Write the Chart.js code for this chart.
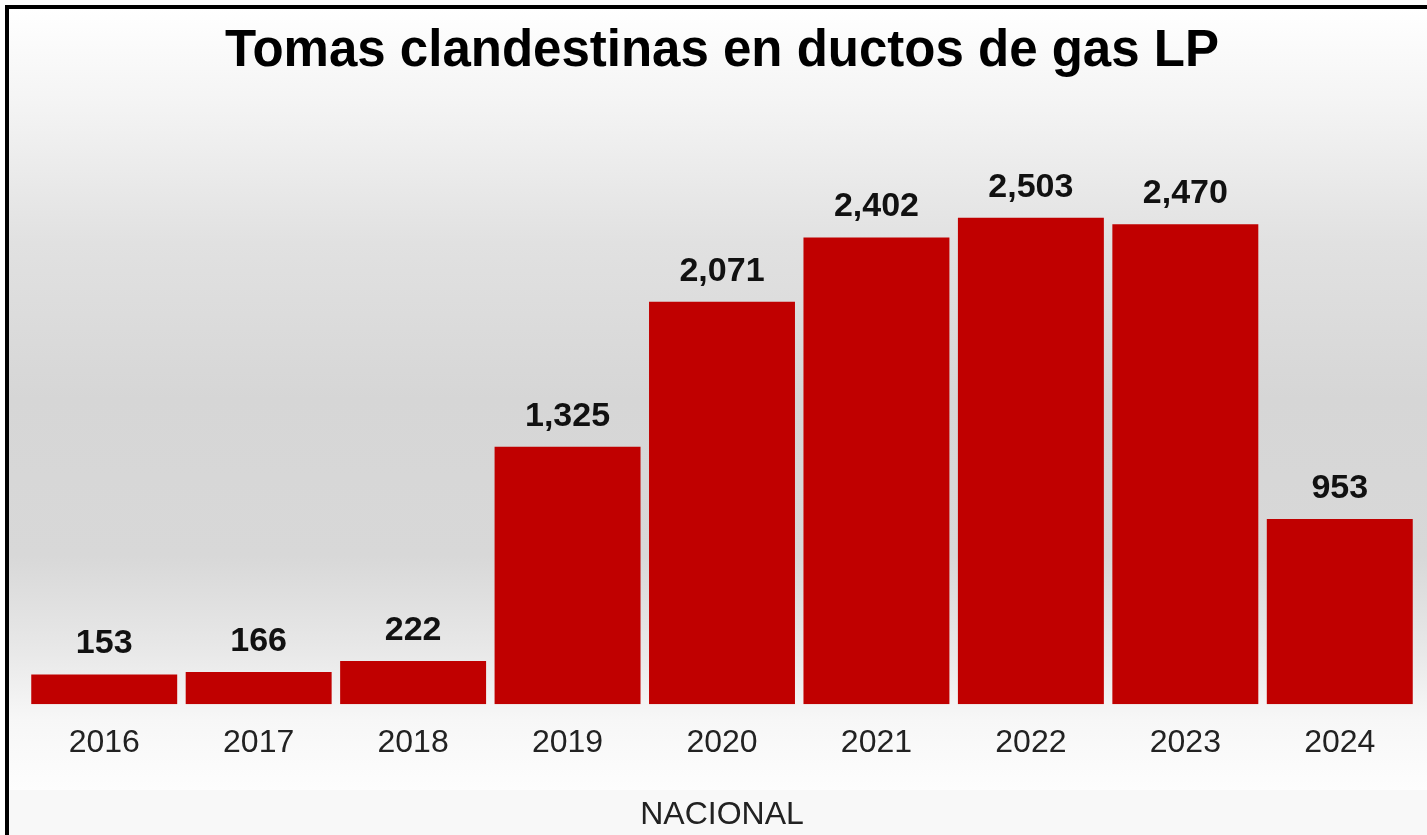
<!DOCTYPE html>
<html>
<head>
<meta charset="utf-8">
<script src="https://cdn.jsdelivr.net/npm/chart.js@4.4.1/dist/chart.umd.min.js"></script>
<style>
  html, body { margin: 0; padding: 0; background: #ffffff; }
  #wrap { position: relative; width: 1427px; height: 835px; }
</style>
</head>
<body>
<div id="wrap"><canvas id="c" width="1427" height="835"></canvas></div>
<script>
const titleText = 'Tomas clandestinas en ductos de gas LP';
const axisTitle = 'NACIONAL';
const categories = ['2016', '2017', '2018', '2019', '2020', '2021', '2022', '2023', '2024'];
const values = [153, 166, 222, 1325, 2071, 2402, 2503, 2470, 953];
const yMax = 3000;

const FONT = '"Liberation Sans", Arial, sans-serif';

const backgroundPlugin = {
  id: 'bgFrame',
  beforeDraw(chart) {
    const ctx = chart.ctx;
    const w = chart.width, h = chart.height;
    ctx.save();
    ctx.fillStyle = '#ffffff';
    ctx.fillRect(0, 0, w, h);
    const g = ctx.createLinearGradient(0, 9, 0, 790);
    g.addColorStop(0.00, '#ffffff');
    g.addColorStop(0.12, '#f4f4f4');
    g.addColorStop(0.30, '#e1e1e1');
    g.addColorStop(0.50, '#d6d6d6');
    g.addColorStop(0.70, '#d8d8d8');
    g.addColorStop(0.82, '#e8e8e8');
    g.addColorStop(0.91, '#f7f7f7');
    g.addColorStop(1.00, '#fdfdfd');
    ctx.fillStyle = g;
    ctx.fillRect(9, 9, w - 9, 781);
    ctx.fillStyle = '#f8f8f8';
    ctx.fillRect(9, 790, w - 9, h - 790);
    // frame
    ctx.fillStyle = '#000000';
    ctx.fillRect(5, 5, w - 5, 4);
    ctx.fillRect(5, 5, 4, h - 5);
    ctx.restore();
  }
};

const valueLabelPlugin = {
  id: 'valueLabels',
  afterDatasetsDraw(chart) {
    const ctx = chart.ctx;
    const meta = chart.getDatasetMeta(0);
    const data = chart.data.datasets[0].data;
    ctx.save();
    ctx.font = 'bold 34px ' + FONT;
    ctx.fillStyle = '#111111';
    ctx.textAlign = 'center';
    ctx.textBaseline = 'alphabetic';
    meta.data.forEach((bar, i) => {
      const txt = data[i].toLocaleString('en-US');
      ctx.fillText(txt, bar.x, bar.y - 21);
    });
    ctx.restore();
  }
};

new Chart(document.getElementById('c'), {
  type: 'bar',
  data: {
    labels: categories,
    datasets: [{
      data: values,
      backgroundColor: '#c00000',
      borderWidth: 0,
      barPercentage: 0.945,
      categoryPercentage: 1.0
    }]
  },
  options: {
    responsive: false,
    devicePixelRatio: 1,
    animation: false,
    layout: { padding: { top: 8, left: 27, right: 10, bottom: 0 } },
    plugins: {
      legend: { display: false },
      tooltip: { enabled: false },
      title: {
        display: true,
        text: titleText,
        color: '#000000',
        font: { family: FONT, size: 51, weight: 'bold' },
        padding: { top: 13, bottom: 39 }
      }
    },
    scales: {
      x: {
        grid: { display: false, drawTicks: false },
        border: { display: false },
        ticks: {
          color: '#222222',
          font: { family: FONT, size: 32 },
          padding: 20,
          maxRotation: 0
        },
        title: {
          display: true,
          text: axisTitle,
          color: '#222222',
          font: { family: FONT, size: 32 },
          padding: { top: 13, bottom: 1 }
        }
      },
      y: {
        display: false,
        min: 0,
        max: yMax
      }
    }
  },
  plugins: [backgroundPlugin, valueLabelPlugin]
});
</script>
</body>
</html>
